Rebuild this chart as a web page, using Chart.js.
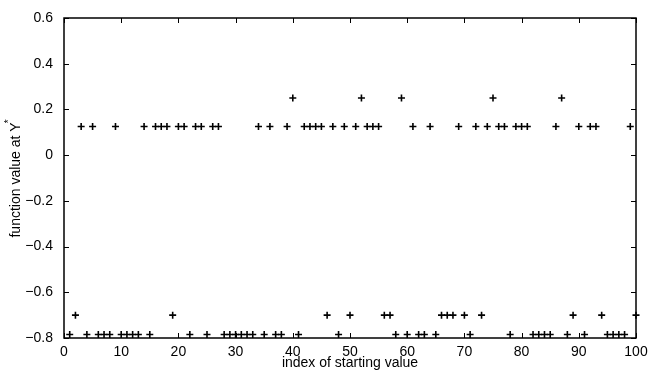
<!DOCTYPE html>
<html>
<head>
<meta charset="utf-8">
<script src="https://cdn.jsdelivr.net/npm/chart.js@4.4.1/dist/chart.umd.min.js"></script>
<style>
  html, body { margin: 0; padding: 0; background: #fff; }
  #wrap { width: 648px; height: 372px; }
</style>
</head>
<body>
<div id="wrap"><canvas id="chart" width="648" height="372"></canvas></div>
<script>
// Valores
const A = 0.125, B = 0.25, P = -0.7, M = -0.785;
const startIndex = Array.from({ length: 100 }, (_, i) => i + 1);
const funcValues = [
    M, P, A, M, A, M, M, M, A, M,
    M, M, M, A, M, A, A, A, P, A,
    A, M, A, A, M, A, A, M, M, M,
    M, M, M, A, M, A, M, M, A, B,
    M, A, A, A, A, P, A, M, A, P,
    A, B, A, A, A, P, P, M, B, M,
    A, M, M, A, M, P, P, P, A, P,
    M, A, P, A, B, A, A, M, A, A,
    A, M, M, M, M, A, B, M, P, A,
    M, A, A, P, M, M, M, M, A, P
];
const xTicks = [0, 10, 20, 30, 40, 50, 60, 70, 80, 90, 100];
const yTicks = [-0.8, -0.6, -0.4, -0.2, 0, 0.2, 0.4, 0.6];
const yTickLabels = ['\u22120.8', '\u22120.6', '\u22120.4', '\u22120.2', '0', '0.2', '0.4', '0.6'];
const xTitle = 'index of starting value';
const yTitle = 'function value at Y';

const FONT = '"Liberation Sans", Arial, Helvetica, sans-serif';

// Marcas hacia dentro en los cuatro lados + títulos
const boxPlugin = {
    id: 'box',
    afterDraw(chart) {
        const { ctx, chartArea: a, scales } = chart;
        const len = 5;
        ctx.save();
        ctx.strokeStyle = '#000';
        ctx.lineWidth = 1;
        xTicks.forEach(v => {
            const px = Math.round(scales.x.getPixelForValue(v)) + 0.5;
            ctx.beginPath();
            ctx.moveTo(px, a.bottom); ctx.lineTo(px, a.bottom - len);
            ctx.moveTo(px, a.top); ctx.lineTo(px, a.top + len);
            ctx.stroke();
        });
        yTicks.forEach(v => {
            const py = Math.round(scales.y.getPixelForValue(v)) + 0.5;
            ctx.beginPath();
            ctx.moveTo(a.left, py); ctx.lineTo(a.left + len, py);
            ctx.moveTo(a.right, py); ctx.lineTo(a.right - len, py);
            ctx.stroke();
        });
        ctx.lineWidth = 1.5;
        ctx.strokeRect(a.left, a.top, a.right - a.left, a.bottom - a.top);

        // título eje x
        ctx.fillStyle = '#000';
        ctx.font = '14px ' + FONT;
        ctx.textAlign = 'center';
        ctx.textBaseline = 'alphabetic';
        ctx.fillText(xTitle, (a.left + a.right) / 2, 367);

        // título eje y con asterisco en superíndice
        ctx.translate(20, (a.top + a.bottom) / 2);
        ctx.rotate(-Math.PI / 2);
        const w = ctx.measureText(yTitle).width;
        ctx.font = '10px ' + FONT;
        const ws = ctx.measureText('*').width;
        ctx.font = '14px ' + FONT;
        ctx.textAlign = 'left';
        const x0 = -(w + ws) / 2;
        ctx.fillText(yTitle, x0, 0);
        ctx.font = '10px ' + FONT;
        ctx.fillText('*', x0 + w - 1, -8);
        ctx.restore();
    }
};

const ctx = document.getElementById('chart').getContext('2d');
new Chart(ctx, {
    type: 'scatter',
    data: {
        datasets: [{
            data: startIndex.map((x, i) => ({ x, y: funcValues[i] })),
            pointStyle: 'cross',
            pointRadius: 3.5,
            pointBorderWidth: 1.6,
            borderColor: '#000',
            backgroundColor: '#000',
            clip: false
        }]
    },
    options: {
        responsive: false,
        animation: false,
        layout: { padding: { top: 18, right: 12, left: 0, bottom: 0 } },
        plugins: { legend: { display: false }, tooltip: { enabled: false } },
        scales: {
            x: {
                type: 'linear',
                min: 0,
                max: 100,
                afterBuildTicks: s => { s.ticks = xTicks.map(v => ({ value: v })); },
                afterFit: s => { s.height = 34; },
                ticks: { color: '#000', font: { family: FONT, size: 14 }, padding: -2, maxRotation: 0, autoSkip: false },
                grid: { display: false },
                border: { display: false }
            },
            y: {
                type: 'linear',
                min: -0.8,
                max: 0.6,
                afterBuildTicks: s => { s.ticks = yTicks.map(v => ({ value: v })); },
                afterFit: s => { s.width = 64; },
                ticks: {
                    color: '#000',
                    font: { family: FONT, size: 14 },
                    padding: 3,
                    autoSkip: false,
                    callback: (v, i) => yTickLabels[i]
                },
                grid: { display: false },
                border: { display: false }
            }
        }
    },
    plugins: [boxPlugin]
});
</script>
</body>
</html>
